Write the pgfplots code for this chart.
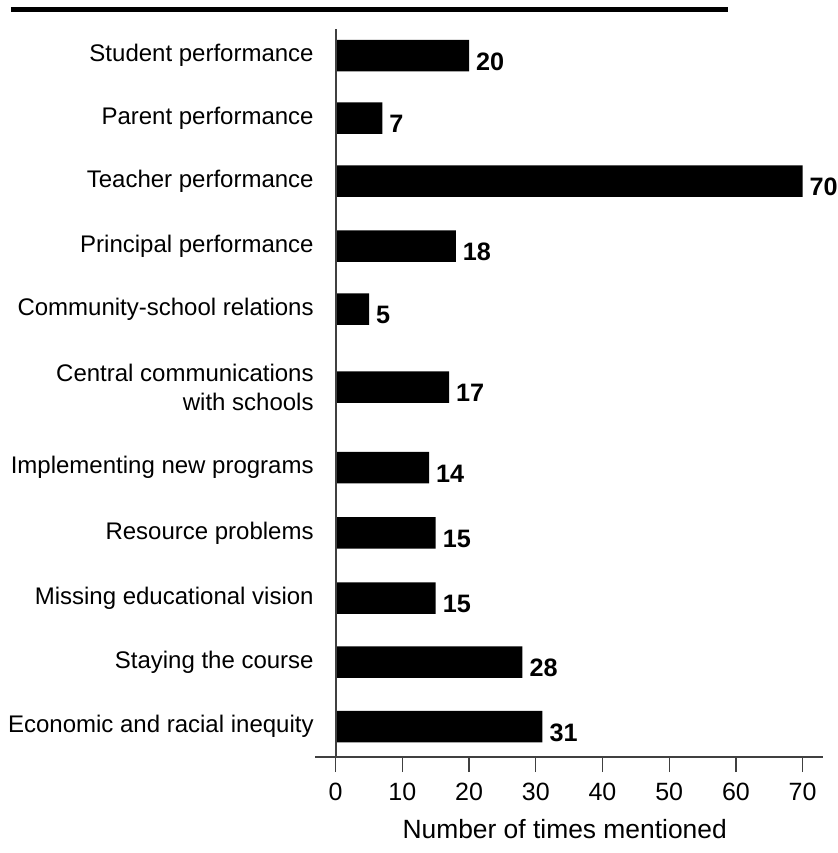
\documentclass[border=0pt]{standalone}
\usepackage{pgfplots}
\pgfplotsset{compat=1.18}
\usepackage{pgfplotstable}
\usepackage{fontspec}
\setmainfont{Liberation Sans}
\definecolor{axisgray}{HTML}{404040}

% y = position from top (px-like units, negative), val = times mentioned
\pgfplotstableread{
y       val
-55.5   20
-118.2  7
-181    70
-246    18
-309    5
-387.2  17
-467.5  14
-532.8  15
-598    15
-662.2  28
-726.5  31
}\datatable

\begin{document}
\begin{tikzpicture}
\path[use as bounding box] (-167.85pt,0pt) rectangle (251.15pt,-426.5pt);
\begin{axis}[
  at={(0pt,-14.5pt)}, anchor=origin,
  scale only axis, width=254pt, height=364pt,
  xmin=-3.1, xmax=73.06, ymin=-757, ymax=-29,
  clip=false,
  axis x line=bottom, axis y line=left,
  x axis line style={axisgray, line width=1pt, -},
  y axis line style={draw=none},
  xtick={0,10,...,70},
  tick align=outside, major tick length=7.5pt,
  xtick style={axisgray, line width=0.7pt},
  ytick={-55.5,-118.2,-181,-246,-309,-387.2,-467.5,-532.8,-598,-662.2,-726.5},
  yticklabels={Student performance, Parent performance, Teacher performance,
    Principal performance, Community-school relations,
    {Central communications\\with schools}, Implementing new programs,
    Resource problems, Missing educational vision, Staying the course,
    Economic and racial inequity},
  ytick style={draw=none},
  yticklabel style={font=\fontsize{12}{14.5}\selectfont, align=right, anchor=east, inner sep=0pt, xshift=7pt},
  xticklabel style={font=\fontsize{12.5}{15}\selectfont, anchor=base, yshift=-14pt},
  /pgf/number format/assume math mode=true,
  xlabel={Number of times mentioned},
  xlabel style={at={(axis cs:34.33,-838.3)}, anchor=base, font=\fontsize{13.2}{15}\selectfont},
  xbar, bar width=31.5,
  nodes near coords,
  nodes near coords style={font=\bfseries\fontsize{12.6}{14}\selectfont, anchor=west, yshift=-3pt, text=black},
]
\addplot[fill=black, draw=none] table[x=val, y=y] {\datatable};
\draw[axisgray, line width=1pt] (axis cs:0,-29) -- (axis cs:0,-757);
\end{axis}
\draw[black, line width=2.5pt] (-162.35pt,-4.9pt) -- (196.15pt,-4.9pt);
\end{tikzpicture}
\end{document}
